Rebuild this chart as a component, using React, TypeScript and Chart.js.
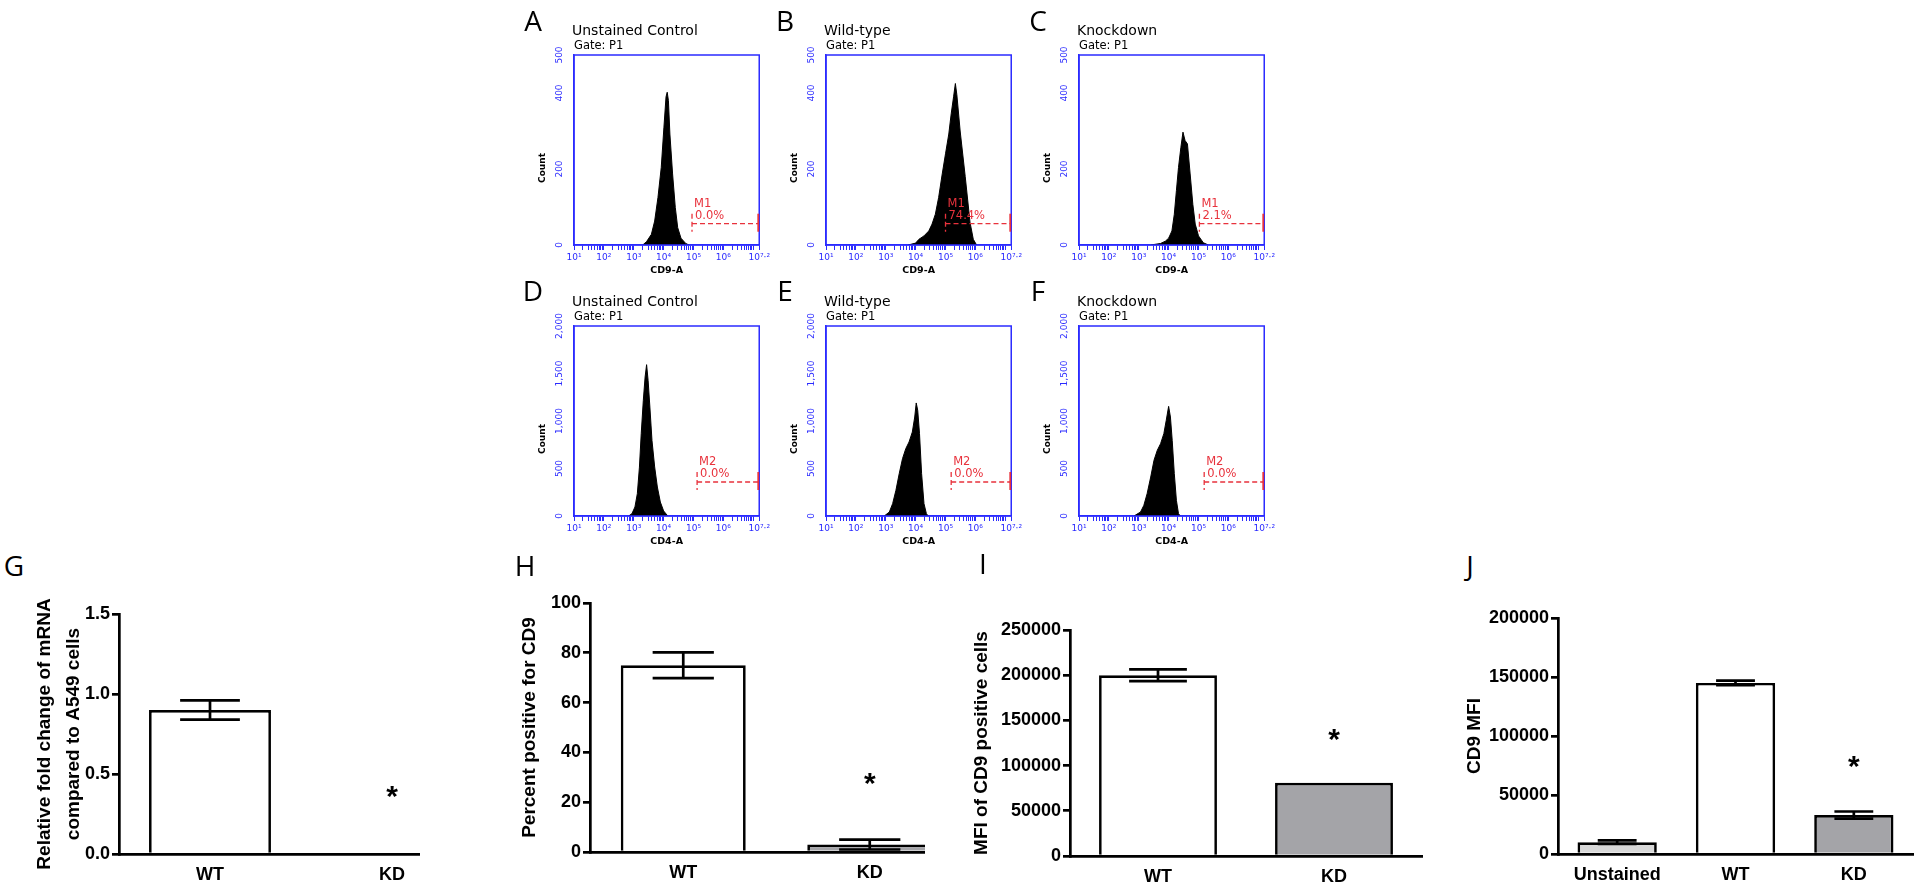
import React, { useEffect, useRef } from 'react';
import { Chart, registerables } from 'chart.js';

Chart.register(...registerables);

// ---------------- Flow cytometry histograms (x = log10 fluorescence, y = count) ----------------
const histA_x = [3.30, 3.43, 3.59, 3.70, 3.81, 3.92, 4.01, 4.08, 4.12, 4.16, 4.21, 4.30, 4.39, 4.47, 4.58, 4.74, 4.85];
const histA_y = [0, 9, 28, 63, 125, 204, 310, 390, 402, 380, 292, 187, 99, 46, 18, 4, 0];
const histB_x = [3.75, 4.0, 4.11, 4.28, 4.44, 4.55, 4.66, 4.77, 4.89, 5.0, 5.11, 5.19, 5.27, 5.33, 5.38, 5.49, 5.66, 5.82, 5.93, 6.04];
const histB_y = [0, 5, 15, 24, 37, 55, 81, 125, 187, 240, 292, 345, 390, 425, 395, 300, 180, 60, 15, 0];
const histC_x = [3.40, 3.73, 3.89, 4.0, 4.11, 4.19, 4.26, 4.33, 4.41, 4.48, 4.55, 4.63, 4.72, 4.81, 4.89, 5.0, 5.16, 5.33];
const histC_y = [0, 4, 10, 18, 37, 81, 143, 204, 257, 297, 275, 266, 187, 107, 55, 24, 6, 0];
const histD_x = [2.83, 2.94, 3.04, 3.12, 3.19, 3.25, 3.32, 3.38, 3.43, 3.48, 3.54, 3.61, 3.70, 3.79, 3.89, 4.0, 4.14];
const histD_y = [0, 25, 95, 235, 515, 867, 1218, 1463, 1593, 1428, 1147, 796, 516, 305, 147, 53, 0];
const histE_x = [2.95, 3.12, 3.23, 3.34, 3.45, 3.56, 3.67, 3.78, 3.89, 3.97, 4.02, 4.07, 4.13, 4.20, 4.28, 4.36, 4.42];
const histE_y = [0, 42, 130, 270, 445, 603, 709, 779, 884, 1042, 1190, 1112, 867, 446, 130, 25, 0];
const histF_x = [2.84, 3.06, 3.17, 3.28, 3.40, 3.51, 3.62, 3.73, 3.84, 3.92, 4.0, 4.06, 4.12, 4.19, 4.26, 4.33, 4.39];
const histF_y = [0, 42, 112, 235, 410, 586, 691, 761, 867, 1007, 1154, 1042, 796, 446, 165, 25, 0];

const histTitles = ['Unstained Control', 'Wild-type', 'Knockdown'];
const histXTitles = ['CD9-A', 'CD4-A'];
const histTopTicks = [0, 200, 400, 500];
const histBottomTicks = [0, 500, 1000, 1500, 2000];
const histXRange = [1, 7.2];
const histXLabels = [1, 2, 3, 4, 5, 6, 7.2];

const gateNames = ['M1', 'M1', 'M1', 'M2', 'M2', 'M2'];
const gatePercents = ['0.0%', '74.4%', '2.1%', '0.0%', '0.0%', '0.0%'];
const gateStarts = [4.95, 5.0, 5.03, 5.12, 5.19, 5.19];
const gateLevels = [56, 56, 56, 358, 358, 358];

// ---------------- Bar charts ----------------
const G_labels = ['WT', 'KD'];
const G_values = [0.90, 0];
const G_errors = [0.06, 0];
const G_stars = [null, 0.40];
const G_ticks = [0, 0.5, 1.0, 1.5];

const H_labels = ['WT', 'KD'];
const H_values = [75, 3];
const H_errors = [5.2, 2];
const H_stars = [null, 30];
const H_ticks = [0, 20, 40, 60, 80, 100];

const I_labels = ['WT', 'KD'];
const I_values = [200000, 81000];
const I_errors = [6500, 0];
const I_stars = [null, 136000];
const I_ticks = [0, 50000, 100000, 150000, 200000, 250000];

const J_labels = ['Unstained', 'WT', 'KD'];
const J_values = [10000, 145000, 33000];
const J_errors = [1500, 2000, 3000];
const J_stars = [null, null, 79500];
const J_ticks = [0, 50000, 100000, 150000, 200000];

const BLUE = '#2b2bff';
const RED = '#e8323c';
const WHITE = '#ffffff';
const GREY = '#a4a4a8';
const LIGHT = '#d8d8d8';
const SANS = '"DejaVu Sans", Verdana, sans-serif';
const ARIAL = '"Liberation Sans", Arial, sans-serif';

const SUP: Record<string, string> = { '1': '¹', '2': '²', '3': '³', '4': '⁴', '5': '⁵', '6': '⁶', '7': '⁷', '.': '·' };

function HistPanel(p: any) {
  const ref = useRef<HTMLCanvasElement>(null);
  const BW = 188, BH = 190, PL = 42, PT = 40, PB = 34, PR = 10;
  const W = PL + BW + PR, H = PT + BH + PB;
  useEffect(() => {
    const canvas = ref.current!;
    const tickVals: number[] = [];
    for (let d = Math.floor(histXRange[0]); d <= Math.floor(histXRange[1]); d++) {
      for (let k = 1; k <= 9; k++) {
        const v = d + Math.log10(k);
        if (v <= histXRange[1] + 1e-9) tickVals.push(v);
      }
    }
    tickVals.push(histXRange[1]);
    const deco = {
      id: 'histDeco',
      afterDraw(chart: any) {
        const { ctx, chartArea: a, scales } = chart;
        const xS = scales.x, yS = scales.y;
        ctx.save();
        ctx.strokeStyle = BLUE;
        ctx.lineWidth = 1.5;
        ctx.strokeRect(a.left, a.top, a.right - a.left, a.bottom - a.top);
        // y tick labels (rotated)
        ctx.fillStyle = BLUE;
        ctx.font = `9px ${SANS}`;
        ctx.textAlign = 'center';
        ctx.textBaseline = 'middle';
        p.yTicks.forEach((v: number) => {
          const y = yS.getPixelForValue(v);
          ctx.save();
          ctx.translate(a.left - 14, y);
          ctx.rotate(-Math.PI / 2);
          ctx.fillText(v.toLocaleString('en-US'), 0, 0);
          ctx.restore();
        });
        // Count
        ctx.fillStyle = '#000';
        ctx.font = `bold 9px ${SANS}`;
        ctx.save();
        ctx.translate(a.left - 31, (a.top + a.bottom) / 2 + 18);
        ctx.rotate(-Math.PI / 2);
        ctx.fillText('Count', 0, 0);
        ctx.restore();
        // titles
        ctx.textAlign = 'left';
        ctx.font = `14px ${SANS}`;
        ctx.fillText(p.title, a.left - 2, a.top - 24);
        ctx.font = `11.5px ${SANS}`;
        ctx.fillText('Gate: P1', a.left, a.top - 9);
        // gate marker
        const gx = xS.getPixelForValue(p.gateStart);
        const gx2 = xS.getPixelForValue(histXRange[1]) - 1;
        const gy = yS.getPixelForValue(p.gateLevel);
        ctx.strokeStyle = RED;
        ctx.lineWidth = 1.3;
        ctx.setLineDash([5, 3]);
        ctx.beginPath();
        ctx.moveTo(gx, gy); ctx.lineTo(gx2, gy);
        ctx.moveTo(gx, gy - 10); ctx.lineTo(gx, gy + 8);
        ctx.stroke();
        ctx.setLineDash([]);
        ctx.lineWidth = 1.8;
        ctx.beginPath();
        ctx.moveTo(gx2, gy - 10); ctx.lineTo(gx2, gy + 8);
        ctx.stroke();
        ctx.fillStyle = RED;
        ctx.font = `11.5px ${SANS}`;
        ctx.fillText(p.gateName, gx + 2, gy - 20);
        ctx.fillText(p.gatePct, gx + 3, gy - 8);
        ctx.restore();
      },
    };
    const chart = new Chart(canvas, {
      type: 'line',
      data: {
        datasets: [{
          data: p.xs.map((x: number, i: number) => ({ x, y: p.ys[i] })),
          fill: 'origin',
          backgroundColor: '#000',
          borderColor: '#000',
          borderWidth: 1,
          pointRadius: 0,
          tension: 0,
        }],
      },
      options: {
        responsive: false,
        animation: false,
        layout: { padding: { top: PT, right: PR, left: 0, bottom: 0 } },
        plugins: { legend: { display: false }, tooltip: { enabled: false } },
        scales: {
          x: {
            type: 'linear',
            min: histXRange[0],
            max: histXRange[1],
            afterFit: (s: any) => { s.height = PB; },
            afterBuildTicks: (s: any) => { s.ticks = tickVals.map((v) => ({ value: v })); },
            ticks: {
              autoSkip: false,
              maxRotation: 0,
              minRotation: 0,
              color: BLUE,
              padding: 2,
              font: { family: SANS, size: 9 },
              callback: (v: any) => {
                const n = Number(v);
                const hit = histXLabels.find((L) => Math.abs(L - n) < 1e-6);
                if (hit === undefined) return '';
                return '10' + String(hit).split('').map((c) => SUP[c] || c).join('');
              },
            },
            grid: { display: true, drawOnChartArea: false, drawTicks: true, tickLength: 5, color: BLUE, lineWidth: 1 },
            border: { display: true, color: BLUE, width: 1.5 },
            title: { display: true, text: p.xTitle, color: '#000', font: { family: SANS, size: 9.5, weight: 'bold' }, padding: { top: 0, bottom: 3 } },
          },
          y: {
            min: 0,
            max: p.yTicks[p.yTicks.length - 1],
            afterFit: (s: any) => { s.width = PL; },
            ticks: { display: false },
            grid: { display: false },
            border: { display: true, color: BLUE, width: 1.5 },
          },
        },
      } as any,
      plugins: [deco],
    });
    return () => chart.destroy();
  }, []);
  return (
    <canvas
      ref={ref}
      width={W}
      height={H}
      style={{ position: 'absolute', left: p.boxLeft - PL, top: p.boxTop - PT, width: W, height: H }}
    />
  );
}

function BarPanel(p: any) {
  const ref = useRef<HTMLCanvasElement>(null);
  useEffect(() => {
    const canvas = ref.current!;
    const LW = 2.7;
    const deco = {
      id: 'barDeco',
      afterDatasetsDraw(chart: any) {
        const { ctx } = chart;
        const yS = chart.scales.y;
        const meta = chart.getDatasetMeta(0);
        ctx.save();
        ctx.strokeStyle = '#000';
        ctx.lineWidth = LW;
        meta.data.forEach((bar: any, i: number) => {
          const e = p.errors[i];
          if (e > 0) {
            const v = p.values[i];
            const yT = yS.getPixelForValue(v + e);
            const yB = yS.getPixelForValue(v - e);
            const hw = bar.width * 0.245;
            ctx.beginPath();
            ctx.moveTo(bar.x, yT); ctx.lineTo(bar.x, yB);
            ctx.moveTo(bar.x - hw, yT); ctx.lineTo(bar.x + hw, yT);
            ctx.moveTo(bar.x - hw, yB); ctx.lineTo(bar.x + hw, yB);
            ctx.stroke();
          }
          const s = p.stars[i];
          if (s !== null && s !== undefined) {
            ctx.fillStyle = '#000';
            ctx.font = `bold 30px ${ARIAL}`;
            ctx.textAlign = 'center';
            ctx.textBaseline = 'alphabetic';
            ctx.fillText('*', bar.x, yS.getPixelForValue(s) + 16);
          }
        });
        ctx.restore();
      },
    };
    const chart = new Chart(canvas, {
      type: 'bar',
      data: {
        labels: p.labels,
        datasets: [{
          data: p.values,
          backgroundColor: p.colors,
          borderColor: '#000',
          borderWidth: LW,
          borderSkipped: 'start',
          categoryPercentage: 1,
          barPercentage: 0.67,
        }],
      },
      options: {
        responsive: false,
        animation: false,
        layout: { padding: { top: p.padTop, right: 7, left: 0, bottom: 0 } },
        plugins: { legend: { display: false }, tooltip: { enabled: false } },
        scales: {
          x: {
            afterFit: (s: any) => { s.height = p.xAxisH; },
            grid: { display: false, drawTicks: false },
            border: { display: true, color: '#000', width: LW },
            ticks: { color: '#000', font: { family: ARIAL, size: 18, weight: 'bold' }, padding: 10, maxRotation: 0, autoSkip: false },
          },
          y: {
            min: p.yTicks[0],
            max: p.yTicks[p.yTicks.length - 1],
            afterFit: (s: any) => { s.width = p.yAxisW; },
            afterBuildTicks: (s: any) => { s.ticks = p.yTicks.map((v: number) => ({ value: v })); },
            ticks: {
              color: '#000',
              font: { family: ARIAL, size: 18, weight: 'bold' },
              padding: 2,
              callback: (v: any) => Number(v).toFixed(p.decimals),
            },
            grid: { display: true, drawOnChartArea: false, drawTicks: true, tickLength: 7, color: '#000', lineWidth: LW },
            border: { display: true, color: '#000', width: LW },
            title: {
              display: true,
              text: p.yTitle,
              color: '#000',
              font: { family: ARIAL, size: 19, weight: 'bold', lineHeight: 1.5 },
              padding: { top: p.titlePad, bottom: 0 },
            },
          },
        },
      } as any,
      plugins: [deco],
    });
    return () => chart.destroy();
  }, []);
  return (
    <div style={{ position: 'absolute', left: p.left, top: p.top, width: p.clip || p.width, height: p.height, overflow: 'hidden' }}>
      <canvas ref={ref} width={p.width} height={p.height} style={{ display: 'block', width: p.width, height: p.height }} />
    </div>
  );
}

function Letter({ t, x, y }: { t: string; x: number; y: number }) {
  return (
    <div
      style={{
        position: 'absolute',
        left: x,
        top: y,
        transform: 'translate(-50%, -50%)',
        font: '28px "Open Sans", sans-serif',
        lineHeight: 1,
        color: '#000',
      }}
    >
      {t}
    </div>
  );
}

export default function App() {
  const boxLefts = [574, 826, 1079];
  const topRow = [
    { xs: histA_x, ys: histA_y },
    { xs: histB_x, ys: histB_y },
    { xs: histC_x, ys: histC_y },
  ];
  const bottomRow = [
    { xs: histD_x, ys: histD_y },
    { xs: histE_x, ys: histE_y },
    { xs: histF_x, ys: histF_y },
  ];
  return (
    <div style={{ position: 'absolute', left: 0, top: 0, width: 1920, height: 888, background: '#fff', overflow: 'hidden' }}>
      {topRow.map((h, i) => (
        <HistPanel
          key={'t' + i}
          boxLeft={boxLefts[i]}
          boxTop={55}
          xs={h.xs}
          ys={h.ys}
          yTicks={histTopTicks}
          title={histTitles[i]}
          xTitle={histXTitles[0]}
          gateStart={gateStarts[i]}
          gateLevel={gateLevels[i]}
          gateName={gateNames[i]}
          gatePct={gatePercents[i]}
        />
      ))}
      {bottomRow.map((h, i) => (
        <HistPanel
          key={'b' + i}
          boxLeft={boxLefts[i]}
          boxTop={326}
          xs={h.xs}
          ys={h.ys}
          yTicks={histBottomTicks}
          title={histTitles[i]}
          xTitle={histXTitles[1]}
          gateStart={gateStarts[i + 3]}
          gateLevel={gateLevels[i + 3]}
          gateName={gateNames[i + 3]}
          gatePct={gatePercents[i + 3]}
        />
      ))}

      <BarPanel
        left={0} top={590} width={490} height={298} clip={420}
        yAxisW={119} xAxisH={34} padTop={24} titlePad={30.75}
        labels={G_labels} values={G_values} errors={G_errors} stars={G_stars}
        colors={[WHITE, GREY]} yTicks={G_ticks} decimals={1}
        yTitle={['Relative fold change of mRNA', 'compared to A549 cells']}
      />
      <BarPanel
        left={480} top={580} width={490} height={308} clip={445}
        yAxisW={110} xAxisH={36} padTop={23} titlePad={35.75}
        labels={H_labels} values={H_values} errors={H_errors} stars={H_stars}
        colors={[WHITE, GREY]} yTicks={H_ticks} decimals={0}
        yTitle={'Percent positive for CD9'}
      />
      <BarPanel
        left={935} top={605} width={494} height={283}
        yAxisW={135} xAxisH={32} padTop={25} titlePad={32.75}
        labels={I_labels} values={I_values} errors={I_errors} stars={I_stars}
        colors={[WHITE, GREY]} yTicks={I_ticks} decimals={0}
        yTitle={'MFI of CD9 positive cells'}
      />
      <BarPanel
        left={1440} top={595} width={480} height={293}
        yAxisW={118} xAxisH={34} padTop={23} titlePad={20.75}
        labels={J_labels} values={J_values} errors={J_errors} stars={J_stars}
        colors={[LIGHT, WHITE, GREY]} yTicks={J_ticks} decimals={0}
        yTitle={'CD9 MFI'}
      />

      <Letter t="A" x={533} y={20} />
      <Letter t="B" x={785} y={20} />
      <Letter t="C" x={1038} y={20} />
      <Letter t="D" x={533} y={290} />
      <Letter t="E" x={785} y={290} />
      <Letter t="F" x={1038} y={290} />
      <Letter t="G" x={14} y={565} />
      <Letter t="H" x={525} y={565} />
      <Letter t="I" x={983} y={563} />
      <Letter t="J" x={1470} y={565} />
    </div>
  );
}
